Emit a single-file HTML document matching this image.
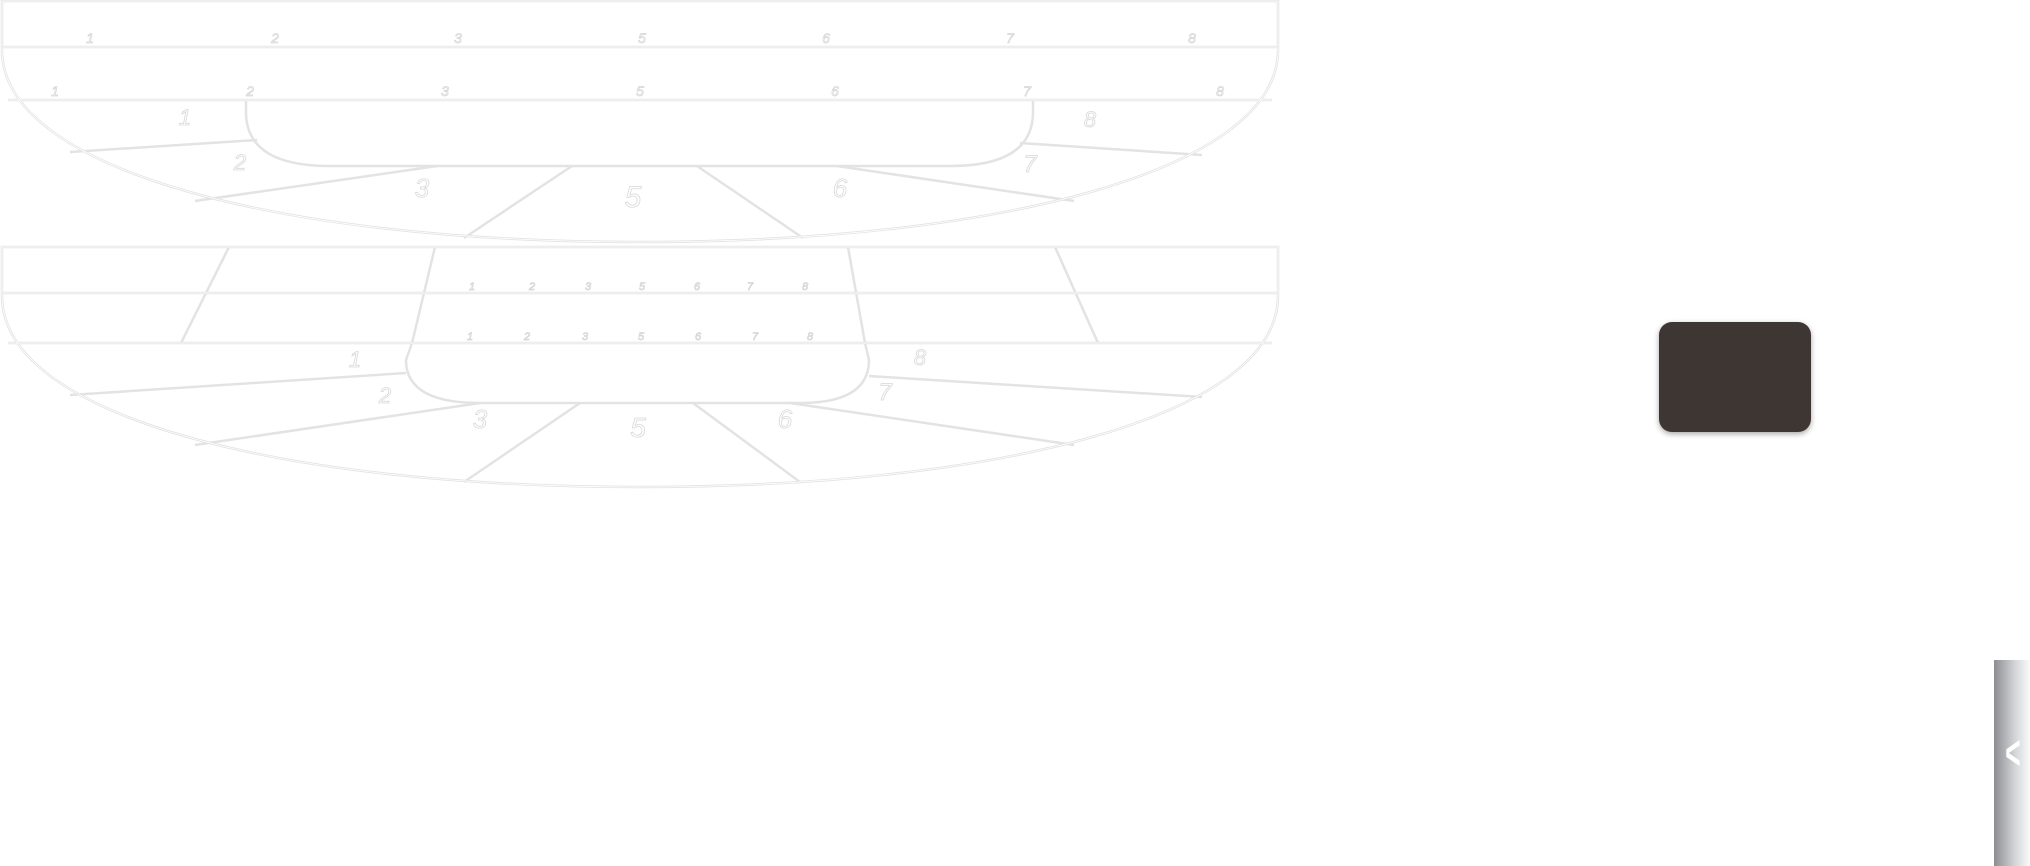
<!DOCTYPE html>
<html><head><meta charset="utf-8"><style>
html,body{margin:0;padding:0;background:#fff;width:2030px;height:866px;overflow:hidden;font-family:"Liberation Sans",sans-serif}
svg{position:absolute;left:0;top:0}
.box{position:absolute;left:1659px;top:322px;width:152px;height:110px;background:#3d3633;border-radius:13px;box-shadow:0 2px 6px rgba(0,0,0,.35)}
.tab{position:absolute;left:1994px;top:660px;width:36px;height:206px;background:linear-gradient(to right,#8c8d92,#d6d7da 60%,#fafafa)}
.tab span{position:absolute;left:5px;top:66px;color:#fff;font-size:48px;font-weight:bold;transform:scaleX(.55)}
</style></head><body>
<svg width="2030" height="866" viewBox="0 0 2030 866">
<g fill="none" stroke="#e3e3e3" stroke-width="2.5">
 <path d="M2 1 L1278 1 L1278 50 C1278 170 1000 242 640 242 C280 242 2 170 2 50 Z"/>
 <line x1="3" y1="47" x2="1277" y2="47"/>
 <line x1="8" y1="100" x2="1272" y2="100"/>
 <path d="M246 100 L246 112 Q246 166 330 166 L950 166 Q1033 166 1033 112 L1033 100"/>
 <line x1="257" y1="140" x2="70" y2="152"/>
 <line x1="1020" y1="143" x2="1202" y2="155"/>
 <line x1="437" y1="166" x2="195" y2="201"/>
 <line x1="572" y1="166" x2="464" y2="238"/>
 <line x1="697" y1="166" x2="803" y2="238"/>
 <line x1="837" y1="166" x2="1074" y2="201"/>
 <path d="M2 247 L1278 247 L1278 296 C1278 416 1000 487 640 487 C280 487 2 416 2 296 Z"/>
 <line x1="3" y1="293" x2="1277" y2="293"/>
 <line x1="8" y1="343" x2="1272" y2="343"/>
 <line x1="229" y1="247" x2="181" y2="343"/>
 <line x1="435" y1="247" x2="412" y2="343"/>
 <line x1="848" y1="247" x2="865" y2="343"/>
 <line x1="1055" y1="247" x2="1098" y2="343"/>
 <path d="M412 343 L406 360 Q406 403 480 403 L800 403 Q869 403 869 360 L865 343"/>
 <line x1="406" y1="373" x2="70" y2="395"/>
 <line x1="869" y1="376" x2="1202" y2="397"/>
 <line x1="480" y1="403" x2="195" y2="445"/>
 <line x1="580" y1="403" x2="464" y2="482"/>
 <line x1="693" y1="403" x2="800" y2="482"/>
 <line x1="790" y1="403" x2="1074" y2="445"/>
</g>
<g fill="none" stroke="#fff" stroke-width="0.8">
 <path d="M2 1 L1278 1 L1278 50 C1278 170 1000 242 640 242 C280 242 2 170 2 50 Z"/>
 <path d="M2 247 L1278 247 L1278 296 C1278 416 1000 487 640 487 C280 487 2 416 2 296 Z"/>
 <line x1="3" y1="47" x2="1277" y2="47"/>
 <line x1="8" y1="100" x2="1272" y2="100"/>
 <line x1="3" y1="293" x2="1277" y2="293"/>
 <line x1="8" y1="343" x2="1272" y2="343"/>
</g>
<g fill="#fff" stroke="#d8d8d8" stroke-width="0.8" font-family="Liberation Sans,sans-serif" font-size="14" text-anchor="middle" font-style="italic">
 <text x="90" y="43">1</text><text x="275" y="43">2</text><text x="458" y="43">3</text><text x="642" y="43">5</text><text x="826" y="43">6</text><text x="1010" y="43">7</text><text x="1192" y="43">8</text>
 <text x="55" y="96">1</text><text x="250" y="96">2</text><text x="445" y="96">3</text><text x="640" y="96">5</text><text x="835" y="96">6</text><text x="1027" y="96">7</text><text x="1220" y="96">8</text>
 <text x="472" y="290" font-size="11">1</text><text x="532" y="290" font-size="11">2</text><text x="588" y="290" font-size="11">3</text><text x="642" y="290" font-size="11">5</text><text x="697" y="290" font-size="11">6</text><text x="750" y="290" font-size="11">7</text><text x="805" y="290" font-size="11">8</text>
 <text x="470" y="340" font-size="11">1</text><text x="527" y="340" font-size="11">2</text><text x="585" y="340" font-size="11">3</text><text x="641" y="340" font-size="11">5</text><text x="698" y="340" font-size="11">6</text><text x="755" y="340" font-size="11">7</text><text x="810" y="340" font-size="11">8</text>
 <text x="185" y="125" font-size="22">1</text><text x="240" y="170" font-size="22">2</text><text x="422" y="197" font-size="26">3</text><text x="633" y="207" font-size="30">5</text><text x="840" y="197" font-size="26">6</text><text x="1030" y="172" font-size="24">7</text><text x="1090" y="127" font-size="22">8</text>
 <text x="355" y="367" font-size="22">1</text><text x="385" y="403" font-size="22">2</text><text x="480" y="428" font-size="26">3</text><text x="638" y="437" font-size="28">5</text><text x="785" y="428" font-size="26">6</text><text x="885" y="400" font-size="24">7</text><text x="920" y="365" font-size="22">8</text>
</g>
</svg>
<div class="box"></div>
<div class="tab"><span>&lt;</span></div>
</body></html>
